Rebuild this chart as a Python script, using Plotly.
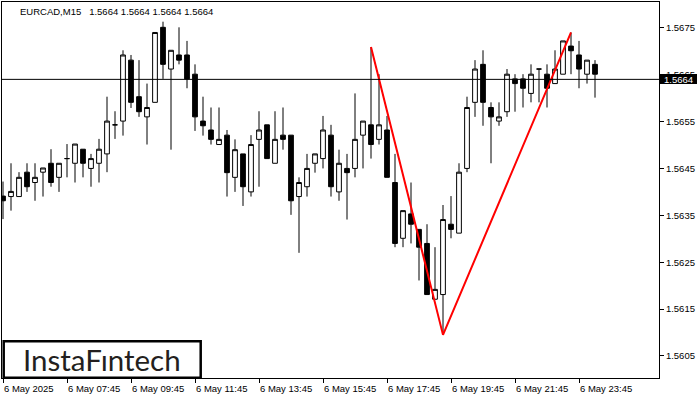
import plotly.graph_objects as go
import pandas as pd

symbol = "EURCAD,M15"
quote_values = ["1.5664", "1.5664", "1.5664", "1.5664"]
current_price = 1.5664
first_bar = "2025-05-06 05:45"

opens = [1.56391, 1.5639, 1.5639, 1.56442, 1.5642, 1.56442, 1.56461, 1.56431, 1.56471, 1.56461,
         1.56491, 1.5645, 1.56461, 1.56481, 1.56543, 1.56551, 1.56681, 1.56603, 1.5656, 1.56591,
         1.56751, 1.56662, 1.56692, 1.56692, 1.56651, 1.56551, 1.56532, 1.56501, 1.56521, 1.56431,
         1.56481, 1.564, 1.56512, 1.56543, 1.56461, 1.56521, 1.56521, 1.5639, 1.56411, 1.56461,
         1.56471, 1.56521, 1.564, 1.5645, 1.5645, 1.56521, 1.56543, 1.56512, 1.56532, 1.5642,
         1.56301, 1.56353, 1.5632, 1.5629, 1.56171, 1.56181, 1.56331, 1.56312, 1.5645, 1.56591,
         1.56672, 1.5658, 1.56551, 1.56571, 1.56641, 1.56641, 1.5661, 1.56662, 1.56651, 1.56631,
         1.56651, 1.56711, 1.56692, 1.56651, 1.56672]
highs = [1.56422, 1.56461, 1.56442, 1.56461, 1.56461, 1.56451, 1.56491, 1.56461, 1.56502, 1.56502,
         1.56491, 1.56481, 1.56513, 1.56603, 1.56572, 1.56702, 1.56692, 1.56681, 1.56631, 1.5674,
         1.56763, 1.56702, 1.56751, 1.56722, 1.56672, 1.56603, 1.5658, 1.5658, 1.56532, 1.56512,
         1.56481, 1.56521, 1.56572, 1.56543, 1.56572, 1.5658, 1.56521, 1.56431, 1.56481, 1.56481,
         1.56562, 1.56543, 1.5649, 1.56481, 1.5661, 1.56551, 1.56709, 1.56651, 1.56562, 1.56481,
         1.5636, 1.5642, 1.5632, 1.56331, 1.56282, 1.56372, 1.56391, 1.56461, 1.56603, 1.56681,
         1.56702, 1.56591, 1.56591, 1.56662, 1.56651, 1.56651, 1.56672, 1.56662, 1.56672, 1.56702,
         1.56722, 1.5674, 1.56722, 1.56681, 1.56681]
lows = [1.56342, 1.5636, 1.5639, 1.564, 1.56381, 1.5639, 1.56411, 1.564, 1.56431, 1.5642,
        1.56431, 1.56411, 1.5642, 1.56442, 1.56513, 1.5652, 1.56579, 1.5656, 1.56501, 1.56591,
        1.56641, 1.5649, 1.56672, 1.56621, 1.5653, 1.5652, 1.56501, 1.56501, 1.5639, 1.564,
        1.5637, 1.5639, 1.56411, 1.56471, 1.56461, 1.5649, 1.56351, 1.5627, 1.5639, 1.56441,
        1.5645, 1.5639, 1.56381, 1.56341, 1.56431, 1.5645, 1.56471, 1.56501, 1.56431, 1.56282,
        1.56282, 1.5629, 1.56211, 1.56181, 1.56171, 1.56095, 1.56301, 1.56312, 1.56442, 1.5656,
        1.56541, 1.56461, 1.56541, 1.5656, 1.56571, 1.5658, 1.56591, 1.56591, 1.5658, 1.56631,
        1.56651, 1.56651, 1.56621, 1.56631, 1.56601]
closes = [1.56381, 1.56401, 1.56431, 1.56411, 1.56431, 1.56451, 1.5642, 1.56461, 1.56471, 1.56502,
          1.56461, 1.56471, 1.56491, 1.56551, 1.56543, 1.56692, 1.56591, 1.56571, 1.5658, 1.5674,
          1.56672, 1.56702, 1.56681, 1.56641, 1.5656, 1.56541, 1.56512, 1.56512, 1.56441, 1.5649,
          1.56411, 1.56501, 1.56532, 1.56471, 1.56512, 1.56512, 1.56381, 1.5642, 1.5645, 1.56481,
          1.56532, 1.56411, 1.56461, 1.56441, 1.56512, 1.56551, 1.56501, 1.56543, 1.56431, 1.5629,
          1.5636, 1.56331, 1.56282, 1.56181, 1.56192, 1.56341, 1.5632, 1.56442, 1.5658, 1.56662,
          1.56591, 1.5656, 1.5656, 1.56651, 1.56631, 1.56621, 1.56651, 1.56662, 1.56621, 1.56662,
          1.56722, 1.56701, 1.56662, 1.56681, 1.56651]

x_tick_times = ["2025-05-06 05:45", "2025-05-06 07:45", "2025-05-06 09:45", "2025-05-06 11:45",
                "2025-05-06 13:45", "2025-05-06 15:45", "2025-05-06 17:45", "2025-05-06 19:45",
                "2025-05-06 21:45", "2025-05-06 23:45"]
x_tick_labels = ["6 May 2025", "6 May 07:45", "6 May 09:45", "6 May 11:45", "6 May 13:45",
                 "6 May 15:45", "6 May 17:45", "6 May 19:45", "6 May 21:45", "6 May 23:45"]
y_tick_values = [1.5605, 1.5615, 1.5625, 1.5635, 1.5645, 1.5655, 1.5665, 1.5675]
y_tick_labels = ["1.5605", "1.5615", "1.5625", "1.5635", "1.5645", "1.5655", "1.5665", "1.5675"]

pattern_times = ["2025-05-06 17:15", "2025-05-06 19:30", "2025-05-06 23:30"]
pattern_prices = [1.56709, 1.56095, 1.56740]

logo_text = "InstaFıntech"

# ---- layout geometry (pixels) ----
W, H = 700, 400
ML, MR, MT, MB = 2, 41, 2, 22
PW = W - ML - MR
PH = H - MT - MB


def px_x(px):
    return (px - ML) / PW


def px_y(py):
    return (H - MB - py) / PH


bar_times = pd.date_range(first_bar, periods=len(opens), freq="15min")
step = pd.Timedelta(minutes=15)
x_start = bar_times[0] - step * 0.125
x_end = x_start + step * (PW / 8.0)

FONT = "Liberation Sans, Arial, sans-serif"

fig = go.Figure()
fig.add_trace(go.Candlestick(
    x=bar_times, open=opens, high=highs, low=lows, close=closes,
    increasing=dict(line=dict(color="black", width=1), fillcolor="white"),
    decreasing=dict(line=dict(color="black", width=1), fillcolor="black"),
    whiskerwidth=0, showlegend=False, hoverinfo="skip",
))
fig.add_trace(go.Scatter(
    x=pd.to_datetime(pattern_times), y=pattern_prices, mode="lines",
    line=dict(color="#ff0000", width=2), showlegend=False, hoverinfo="skip",
))

annotations = []
for t, lab in zip(x_tick_times, x_tick_labels):
    annotations.append(dict(
        x=pd.Timestamp(t), y=0, xref="x", yref="paper", text=lab,
        xanchor="left", yanchor="top", xshift=-1, yshift=-3, showarrow=False,
        font=dict(family=FONT, size=9.5, color="black"),
    ))

annotations.append(dict(
    x=px_x(18), y=px_y(11.5), xref="paper", yref="paper",
    text=symbol + "\u00a0\u00a0\u00a0" + " ".join(quote_values),
    xanchor="left", yanchor="middle", showarrow=False,
    font=dict(family=FONT, size=9.5, color="black"),
))
annotations.append(dict(
    x=1, y=current_price, xref="paper", yref="y",
    text=f"{current_price:.4f}", xanchor="left", yanchor="middle", xshift=1,
    showarrow=False, bgcolor="black", borderpad=0, borderwidth=0,
    width=37, height=10, align="center",
    font=dict(family=FONT, size=9.5, color="white"),
))
annotations.append(dict(
    x=px_x(102), y=px_y(359.5), xref="paper", yref="paper",
    text=logo_text, xanchor="center", yanchor="middle", showarrow=False,
    font=dict(family="Lato, sans-serif", size=29.5, color="#231f20"),
))

shapes = [
    dict(type="line", xref="paper", yref="y", x0=0, x1=1,
         y0=current_price, y1=current_price, line=dict(color="black", width=1)),
    dict(type="rect", xref="paper", yref="paper",
         x0=px_x(3.7), x1=px_x(200.7), y0=px_y(377.8), y1=px_y(341.3),
         line=dict(color="black", width=2.5), fillcolor="white", layer="above"),
]

fig.update_layout(
    width=W, height=H,
    margin=dict(l=ML, r=MR, t=MT, b=MB, pad=0),
    paper_bgcolor="white", plot_bgcolor="white",
    boxgap=0.41, boxgroupgap=0,
    showlegend=False,
    annotations=annotations,
    shapes=shapes,
    xaxis=dict(
        type="date", range=[x_start, x_end], rangeslider=dict(visible=False),
        tickmode="array", tickvals=pd.to_datetime(x_tick_times),
        ticktext=[""] * len(x_tick_times), showticklabels=False,
        ticks="outside", ticklen=4, tickcolor="black", tickwidth=1,
        showgrid=False, zeroline=False,
        showline=True, linecolor="black", linewidth=1, mirror=True,
        fixedrange=True,
    ),
    yaxis=dict(
        side="right", range=[1.56003, 1.56805],
        tickmode="array", tickvals=y_tick_values, ticktext=y_tick_labels,
        ticks="outside", ticklen=4, tickcolor="black", tickwidth=1,
        tickfont=dict(family=FONT, size=9.5, color="black"),
        showgrid=False, zeroline=False,
        showline=True, linecolor="black", linewidth=1, mirror=True,
        fixedrange=True,
    ),
)

fig.write_html(
    "out.html",
    config={"displayModeBar": False},
    post_script="document.body.style.margin='0px';document.body.style.padding='0px';",
)
